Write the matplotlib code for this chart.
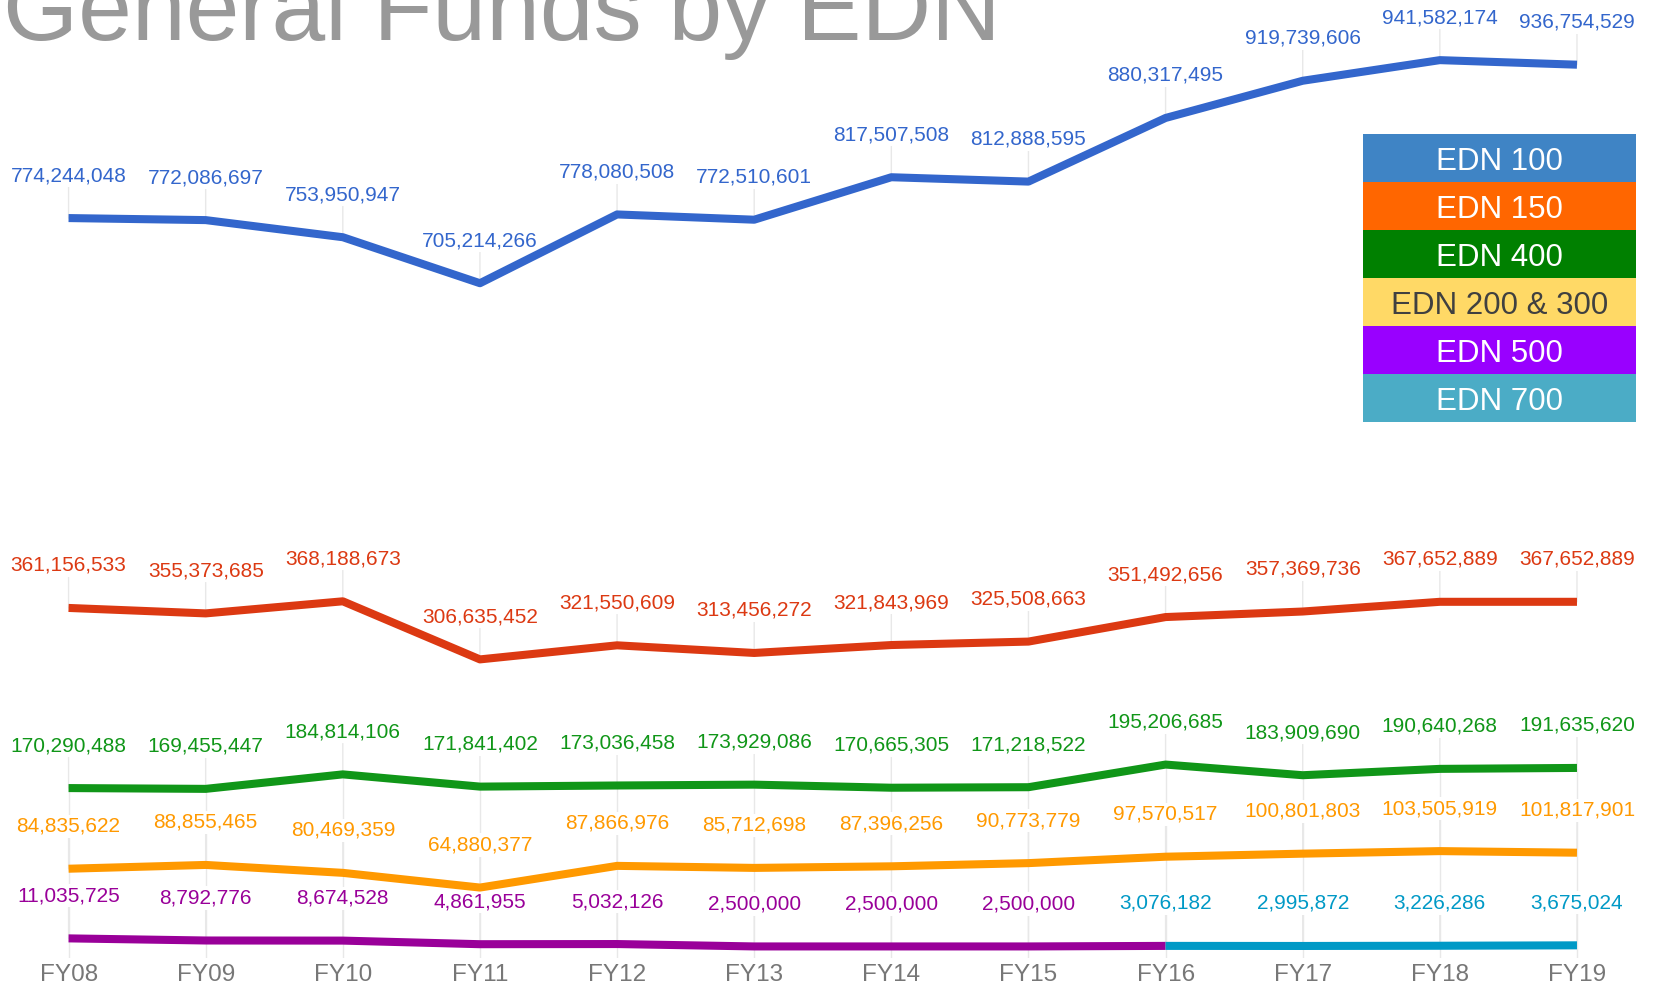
import matplotlib
matplotlib.use('Agg')
from matplotlib import pyplot as plt

plt.rcParams['font.family'] = ['Liberation Sans', 'DejaVu Sans']

# Data
years = ['FY08', 'FY09', 'FY10', 'FY11', 'FY12', 'FY13',
         'FY14', 'FY15', 'FY16', 'FY17', 'FY18', 'FY19']
edn100 = [774244048, 772086697, 753950947, 705214266, 778080508, 772510601,
          817507508, 812888595, 880317495, 919739606, 941582174, 936754529]
edn150 = [361156533, 355373685, 368188673, 306635452, 321550609, 313456272,
          321843969, 325508663, 351492656, 357369736, 367652889, 367652889]
edn400 = [170290488, 169455447, 184814106, 171841402, 173036458, 173929086,
          170665305, 171218522, 195206685, 183909690, 190640268, 191635620]
edn200_300 = [84835622, 88855465, 80469359, 64880377, 87866976, 85712698,
              87396256, 90773779, 97570517, 100801803, 103505919, 101817901]
edn500 = [11035725, 8792776, 8674528, 4861955, 5032126, 2500000, 2500000, 2500000]
edn700 = [3076182, 2995872, 3226286, 3675024]  # FY16 - FY19

legend_names = ['EDN 100', 'EDN 150', 'EDN 400', 'EDN 200 & 300', 'EDN 500', 'EDN 700']
legend_colors = ['#3f84c5', '#ff6600', '#008000', '#ffd966', '#9900ff', '#4bacc6']
legend_text_colors = ['white', 'white', 'white', '#404040', 'white', 'white']

# line / label colours
c100 = '#3366cc'
c150 = '#dc3912'
c400 = '#109618'
c200 = '#ff9900'
c500 = '#990099'
c700 = '#0099c6'

fig = plt.figure(figsize=(16.55, 9.86), dpi=100)
ax = fig.add_axes([0, 0.0284, 1, 0.9716])
ax.set_xlim(-0.5, 11.569)
ax.set_ylim(-9.75e6, 1005.3e6)
for s in ax.spines.values():
    s.set_visible(False)
ax.set_yticks([])
x = list(range(len(years)))
ax.set_xticks(x)
ax.set_xticklabels(years, fontsize=17.5, color='#777777')
ax.tick_params(axis='x', length=0, pad=4)

# grid for the lower group of series
ax.vlines(x, -9.75e6, edn400, color='#e8e8e8', lw=1, zorder=1)

x500 = x[:len(edn500) + 1]
x700 = x[len(edn500):]

lw = 5.8
ax.plot(x, edn100, color=c100, lw=lw, zorder=3, solid_capstyle='butt')
ax.plot(x, edn150, color=c150, lw=lw, zorder=3, solid_capstyle='butt')
ax.plot(x, edn400, color=c400, lw=lw, zorder=3, solid_capstyle='butt')
ax.plot(x, edn200_300, color=c200, lw=lw, zorder=3, solid_capstyle='butt')
ax.plot(x500, edn500 + edn700[:1], color=c500, lw=lw, zorder=3, solid_capstyle='butt')
ax.plot(x700, edn700, color=c700, lw=lw, zorder=3, solid_capstyle='butt')


def label_points(xs, vals, color):
    for xi, v in zip(xs, vals):
        ax.annotate(f'{v:,}', xy=(xi, v), xytext=(0, 37), textcoords='offset pixels',
                    ha='center', va='baseline', fontsize=15, color=color, zorder=2,
                    bbox=dict(boxstyle='square,pad=0.1', fc='white', ec='none'),
                    arrowprops=dict(arrowstyle='-', color='#e8e8e8', lw=1,
                                    shrinkA=0, shrinkB=0))


label_points(x, edn100, c100)
label_points(x, edn150, c150)
label_points(x, edn400, c400)
label_points(x, edn200_300, c200)
label_points(x[:len(edn500)], edn500, c500)
label_points(x700, edn700, c700)

# Title (cut off at top edge as in the original)
fig.text(0.002, 1 - 40 / 986, 'General Funds by EDN', fontsize=69.5, color='#999999',
         ha='left', va='baseline')

# Legend as coloured blocks
lax = fig.add_axes([0.8236, 0.572, 0.1649, 0.292])
rows = list(range(len(legend_names)))
lax.barh(rows, [1] * len(rows), height=1.0, color=legend_colors, left=0)
lax.set_xlim(0, 1)
lax.set_ylim(len(rows) - 0.5, -0.5)
lax.axis('off')
for r, name, tc in zip(rows, legend_names, legend_text_colors):
    lax.text(0.5, r, name, ha='center', va='center_baseline', fontsize=22.5, color=tc)

plt.savefig('out.png', dpi=100)
plt.close(fig)
